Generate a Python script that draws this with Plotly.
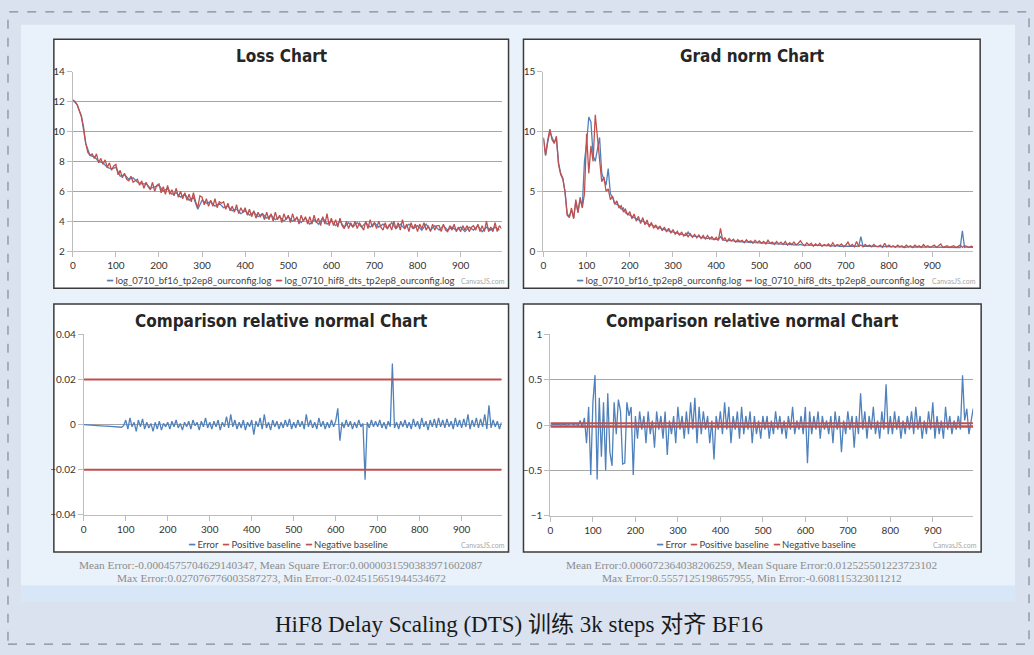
import plotly.graph_objects as go

W, H = 1034, 655

# ---- data ----
steps5 = list(range(0, 1000, 5))
steps10 = list(range(0, 1000, 10))

loss_hif8 = [
    12.1, 12.0, 11.8, 11.4, 11.0, 10.3, 9.2, 8.6, 8.4, 8.5,
    8.2, 8.5, 7.9, 8.2, 7.8, 8.1, 7.6, 7.9, 7.4, 7.7,
    7.8, 7.1, 7.4, 6.9, 7.2, 6.8, 6.7, 7.0, 6.6, 6.7,
    6.8, 6.4, 6.7, 6.2, 6.6, 6.3, 6.1, 6.6, 6.0, 6.4,
    6.5, 5.9, 6.3, 5.8, 6.4, 5.8, 6.1, 5.7, 6.2, 5.6,
    6.0, 5.5, 5.9, 5.4, 5.8, 5.3, 5.9, 5.3, 4.9, 5.7,
    5.6, 5.1, 5.5, 5.0, 5.4, 5.0, 5.5, 4.9, 5.3, 5.2,
    5.3, 4.8, 5.2, 4.7, 5.0, 4.6, 5.1, 4.5, 4.9, 4.6,
    4.9, 4.4, 4.8, 4.3, 4.7, 4.2, 4.6, 4.3, 4.5, 4.1,
    4.6, 4.1, 4.5, 4.0, 4.6, 4.1, 4.4, 3.9, 4.5, 4.1,
    4.4, 3.9, 4.5, 4.0, 4.3, 3.8, 4.4, 4.0, 4.3, 3.8,
    4.3, 3.8, 4.4, 3.9, 4.2, 3.7, 4.3, 3.8, 4.5, 3.7,
    4.2, 3.7, 4.1, 3.6, 4.2, 3.7, 3.5, 4.0, 3.5, 3.9,
    3.6, 4.0, 3.5, 3.9, 3.6, 3.4, 4.0, 3.5, 4.1, 3.6,
    3.9, 3.5, 4.0, 3.6, 3.4, 3.9, 3.5, 3.8, 3.4, 4.0,
    3.5, 3.9, 3.4, 4.1, 3.5, 3.8, 3.3, 3.9, 3.5, 3.8,
    3.3, 3.8, 3.5, 3.9, 3.4, 3.7, 3.3, 3.8, 3.4, 3.7,
    3.7, 3.3, 3.8, 3.4, 3.3, 3.7, 3.4, 3.8, 3.3, 3.6,
    3.3, 3.7, 3.4, 3.7, 3.3, 3.6, 3.7, 3.4, 3.8, 3.3,
    3.7, 3.3, 4.0, 3.3, 3.6, 3.3, 3.9, 3.3, 3.7, 3.5,
]

loss_bf16 = [
    12.1, 11.8, 11.0, 9.2, 8.4, 8.3, 8.0, 7.9, 7.6, 7.5,
    7.6, 7.0, 7.1, 6.8, 6.9, 6.6, 6.5, 6.5, 6.2, 6.3,
    6.4, 6.0, 6.2, 5.8, 5.9, 5.6, 5.8, 5.4, 5.6, 4.8,
    5.4, 5.2, 5.3, 5.0, 5.2, 4.9, 5.0, 4.7, 4.8, 4.5,
    4.7, 4.4, 4.6, 4.3, 4.5, 4.2, 4.4, 4.1, 4.3, 4.0,
    4.3, 4.0, 4.2, 3.9, 4.2, 3.8, 4.1, 3.8, 4.2, 3.8,
    4.0, 3.7, 4.0, 3.6, 3.9, 3.6, 3.9, 3.6, 3.9, 3.6,
    3.9, 3.6, 3.8, 3.5, 3.9, 3.5, 3.8, 3.5, 3.8, 3.5,
    3.7, 3.4, 3.8, 3.4, 3.7, 3.4, 3.7, 3.4, 3.6, 3.4,
    3.6, 3.3, 3.6, 3.4, 3.7, 3.3, 3.6, 3.4, 3.6, 3.4,
]

grad_hif8 = [
    9.5, 8.0, 9.3, 10.2, 9.3, 9.0, 9.6, 7.2, 6.4, 6.0,
    5.0, 3.0, 2.8, 3.6, 2.7, 4.3, 3.2, 4.5, 3.6, 4.8,
    9.8, 6.5, 8.8, 7.5, 11.4, 9.5, 7.5, 5.8, 6.2, 5.0,
    5.2, 4.3, 4.6, 3.9, 4.2, 3.6, 3.8, 3.3, 3.5, 3.0,
    3.3, 2.7, 3.1, 2.5, 2.9, 2.3, 2.8, 2.2, 2.6, 2.0,
    2.4, 1.9, 2.2, 1.8, 2.1, 1.7, 2.0, 1.6, 1.9, 1.5,
    1.8, 1.4, 1.65, 1.3, 1.6, 1.25, 1.5, 1.2, 1.45, 1.15,
    1.4, 1.1, 1.35, 1.05, 1.3, 1.0, 1.3, 1.0, 1.2, 0.95,
    1.15, 0.9, 1.9, 0.9, 1.1, 0.8, 1.05, 0.85, 1.0, 0.75,
    0.95, 0.8, 0.9, 0.7, 0.95, 0.75, 0.85, 0.65, 0.9, 0.7,
    0.85, 0.65, 0.8, 0.6, 0.9, 0.65, 0.75, 0.55, 0.8, 0.6,
    0.75, 0.55, 0.8, 0.5, 0.7, 0.55, 0.75, 0.5, 0.65, 0.85,
    0.6, 0.45, 0.7, 0.5, 0.65, 0.4, 0.6, 0.45, 0.65, 0.4,
    0.55, 0.45, 0.6, 0.4, 0.7, 0.4, 0.55, 0.45, 0.6, 0.35,
    0.5, 0.75, 0.4, 0.55, 0.35, 0.8, 0.4, 0.5, 0.35, 0.55,
    0.4, 0.5, 0.35, 0.55, 0.4, 0.35, 0.5, 0.3, 0.65, 0.35,
    0.5, 0.35, 0.45, 0.3, 0.5, 0.35, 0.45, 0.3, 0.5, 0.35,
    0.45, 0.3, 0.5, 0.35, 0.45, 0.3, 0.55, 0.35, 0.45, 0.3,
    0.4, 0.5, 0.3, 0.45, 0.6, 0.3, 0.4, 0.45, 0.3, 0.4,
    0.45, 0.3, 0.4, 0.5, 0.3, 0.45, 0.4, 0.3, 0.4, 0.35,
]

grad_bf16 = [
    9.4, 8.0, 9.1, 10.0, 9.5, 9.1, 9.4, 7.4, 6.5, 6.1,
    4.9, 3.1, 2.9, 3.4, 2.8, 4.1, 3.3, 4.3, 3.7, 7.5,
    9.0, 11.2, 10.8, 8.0, 7.5, 8.5, 9.5, 6.5, 6.0, 5.5,
    6.9, 4.8, 4.5, 4.0, 3.9, 3.8, 3.5, 3.6, 3.2, 3.1,
    3.0, 2.9, 2.8, 2.7, 2.6, 2.5, 2.5, 2.4, 2.3, 2.2,
    2.2, 2.1, 2.0, 2.0, 1.9, 1.85, 1.8, 1.75, 1.7, 1.6,
    1.6, 1.55, 1.5, 1.45, 1.4, 1.35, 1.3, 1.6, 1.3, 1.25,
    1.25, 1.2, 1.2, 1.15, 1.1, 1.1, 1.05, 1.1, 1.0, 1.0,
    1.0, 0.95, 1.2, 0.95, 0.9, 0.9, 0.85, 0.85, 0.85, 0.8,
    0.8, 0.8, 0.75, 0.8, 0.75, 0.75, 0.7, 0.75, 0.7, 0.7,
    0.7, 0.7, 0.65, 0.7, 0.65, 0.65, 0.6, 0.65, 0.6, 0.6,
    0.6, 0.6, 0.55, 0.6, 0.55, 0.55, 0.5, 0.55, 0.5, 0.55,
    0.5, 0.5, 0.5, 0.5, 0.45, 0.5, 0.45, 0.5, 0.45, 0.45,
    0.45, 0.45, 0.45, 0.4, 0.45, 0.4, 0.45, 0.4, 0.4, 0.4,
    0.4, 0.4, 0.4, 0.4, 0.45, 0.4, 0.4, 1.2, 0.4, 0.4,
    0.4, 0.4, 0.35, 0.4, 0.35, 0.4, 0.35, 0.35, 0.4, 0.35,
    0.35, 0.35, 0.4, 0.35, 0.35, 0.35, 0.35, 0.3, 0.35, 0.35,
    0.35, 0.3, 0.35, 0.35, 0.3, 0.35, 0.3, 0.35, 0.3, 0.35,
    0.3, 0.35, 0.3, 0.3, 0.35, 0.3, 0.3, 0.35, 0.3, 0.3,
    0.3, 0.3, 0.35, 0.3, 1.7, 0.3, 0.35, 0.3, 0.3, 0.3,
]

loss_err = [
    0.0, -0.0001, -0.0002, -0.0003, -0.0004, -0.0004, -0.0005, -0.0005, -0.0006, -0.0006,
    -0.0007, -0.0007, -0.0008, -0.0008, -0.0008, -0.0009, -0.0009, -0.001, -0.0012, -0.0005,
    0.002, -0.002, 0.003, -0.001, 0.001, -0.003, 0.002, -0.001, 0.0025, -0.002,
    0.001, -0.0015, 0.0005, -0.003, 0.001, -0.002, 0.0015, -0.0025, 0.0005, -0.001,
    0.001, -0.002, 0.0015, -0.001, 0.002, -0.0015, 0.0005, -0.0025, 0.001, -0.001,
    0.0015, -0.002, 0.002, -0.0005, 0.001, -0.0025, 0.0015, -0.001, 0.003, -0.0015,
    0.001, -0.002, 0.0015, -0.001, 0.002, -0.0025, 0.001, -0.001, 0.0035, -0.0015,
    0.0045, -0.001, 0.002, -0.002, 0.001, -0.0015, 0.002, -0.0025, 0.001, -0.001,
    0.002, -0.0045, 0.0015, -0.001, 0.003, -0.002, 0.0045, -0.0015, 0.001, -0.0025,
    0.002, -0.001, 0.0015, -0.002, 0.001, -0.0015, 0.002, -0.001, 0.0025, -0.002,
    0.001, -0.0015, 0.002, -0.001, 0.0015, -0.002, 0.0045, -0.001, 0.002, -0.0015,
    0.001, -0.002, 0.003, -0.001, 0.0015, -0.002, 0.001, -0.0015, 0.002, -0.001,
    0.0015, 0.0072, -0.0072, 0.001, -0.0015, 0.002, -0.001, 0.0015, -0.002, 0.001,
    -0.0015, 0.002, -0.001, 0.0005, -0.0245, 0.001, -0.0015, 0.002, -0.001, 0.0015,
    -0.001, 0.002, -0.0015, 0.001, -0.002, 0.0015, -0.001, 0.0271, -0.0015, 0.001,
    -0.002, 0.0015, -0.001, 0.002, -0.0015, 0.001, -0.002, 0.0025, -0.001, 0.0015,
    -0.002, 0.003, -0.001, 0.0015, -0.0025, 0.002, -0.001, 0.0025, -0.0015, 0.003,
    -0.001, 0.002, -0.0015, 0.0025, -0.001, 0.0015, -0.002, 0.003, -0.001, 0.002,
    -0.0015, 0.0025, -0.001, 0.0045, -0.002, 0.002, -0.001, 0.003, -0.0015, 0.0025,
    -0.001, 0.0045, -0.002, 0.0085, -0.0015, 0.002, -0.001, 0.0015, -0.002, 0.001,
]

grad_err = [
    0.0, 0.005, 0.01, 0.005, 0.01, 0.0, 0.01, 0.005, 0.0, 0.01,
    0.015, 0.0, 0.02, -0.01, 0.05, -0.03, 0.08, -0.2, 0.2, -0.55,
    0.25, 0.55, -0.6, 0.3, -0.35, 0.25, -0.5, 0.35, -0.3, -0.45,
    0.25, -0.1, 0.28, 0.15, -0.43, -0.42, 0.25, 0.1, 0.2, -0.55,
    0.1, -0.15, 0.15, -0.05, 0.1, -0.2, 0.15, -0.1, 0.05, -0.25,
    0.15, -0.05, 0.1, -0.15, 0.15, -0.33, 0.05, -0.1, 0.1, -0.2,
    0.2, -0.05, 0.1, -0.15, 0.15, -0.1, 0.25, -0.05, 0.3, -0.2,
    0.2, -0.1, 0.15, -0.05, 0.1, -0.2, 0.05, -0.38, 0.1, -0.05,
    0.15, -0.1, 0.25, -0.05, 0.2, -0.2, 0.1, -0.05, 0.15, -0.15,
    0.2, -0.1, 0.1, -0.05, 0.15, -0.2, 0.1, -0.1, 0.05, -0.15,
    0.1, -0.05, 0.1, -0.15, 0.05, -0.1, 0.15, -0.05, 0.1, -0.1,
    0.05, -0.15, 0.1, -0.05, 0.2, -0.1, 0.05, -0.05, 0.1, -0.1,
    0.2, -0.42, 0.15, -0.1, 0.1, -0.05, 0.15, -0.15, 0.1, -0.05,
    0.05, -0.1, 0.1, -0.2, 0.15, -0.05, 0.1, -0.3, 0.05, -0.1,
    0.15, -0.05, 0.1, -0.25, 0.1, -0.1, 0.35, -0.05, 0.15, -0.15,
    0.1, -0.05, 0.2, -0.1, 0.05, -0.15, 0.15, -0.05, 0.45, -0.1,
    0.1, -0.1, 0.15, -0.05, 0.1, -0.15, 0.05, -0.1, 0.1, -0.05,
    0.15, -0.1, 0.2, -0.05, 0.1, -0.15, 0.05, -0.1, 0.15, -0.05,
    0.25, -0.15, 0.1, -0.1, 0.05, -0.15, 0.2, -0.05, 0.1, -0.1,
    0.05, -0.05, 0.1, -0.05, 0.55, 0.05, 0.18, -0.1, 0.05, 0.18,
]

baseline_x = [0, 995]
pos_baseline = [0.02, 0.02]
neg_baseline = [-0.02, -0.02]

name_bf16 = "log_0710_bf16_tp2ep8_ourconfig.log"
name_hif8 = "log_0710_hif8_dts_tp2ep8_ourconfig.log"
stats_loss = ["Mean Error:-0.0004575704629140347, Mean Square Error:0.0000031590383971602087",
              "Max Error:0.027076776003587273, Min Error:-0.024515651944534672"]
stats_grad = ["Mean Error:0.006072364038206259, Mean Square Error:0.012525501223723102",
              "Max Error:0.5557125198657955, Min Error:-0.608115323011212"]

BLUE = "#4F81BC"
RED = "#C0504E"


def fx(p):
    return p / W


def fy(p):
    return 1 - p / H


# panels: border box and plot area, in pixels
panels = [
    dict(box=(51, 33, 507, 287), area=(70, 66, 500, 249)),
    dict(box=(522, 33, 980, 287), area=(542, 66, 973, 249)),
    dict(box=(51, 303, 507, 556), area=(81, 334, 500, 518)),
    dict(box=(522, 303, 981, 556), area=(549, 334, 973, 519)),
]

fig = go.Figure()

line_w = 1.3
fig.add_trace(go.Scatter(x=steps10, y=loss_bf16, mode="lines", line=dict(color=BLUE, width=line_w), xaxis="x", yaxis="y"))
fig.add_trace(go.Scatter(x=steps5, y=loss_hif8, mode="lines", line=dict(color=RED, width=line_w), xaxis="x", yaxis="y"))
fig.add_trace(go.Scatter(x=steps5, y=grad_bf16, mode="lines", line=dict(color=BLUE, width=line_w), xaxis="x2", yaxis="y2"))
fig.add_trace(go.Scatter(x=steps5, y=grad_hif8, mode="lines", line=dict(color=RED, width=line_w), xaxis="x2", yaxis="y2"))
fig.add_trace(go.Scatter(x=steps5, y=loss_err, mode="lines", line=dict(color=BLUE, width=line_w), xaxis="x3", yaxis="y3"))
fig.add_trace(go.Scatter(x=baseline_x, y=pos_baseline, mode="lines", line=dict(color=RED, width=2), xaxis="x3", yaxis="y3"))
fig.add_trace(go.Scatter(x=baseline_x, y=neg_baseline, mode="lines", line=dict(color=RED, width=2), xaxis="x3", yaxis="y3"))
fig.add_trace(go.Scatter(x=steps5, y=grad_err, mode="lines", line=dict(color=BLUE, width=line_w), xaxis="x4", yaxis="y4"))
fig.add_trace(go.Scatter(x=baseline_x, y=pos_baseline, mode="lines", line=dict(color=RED, width=2), xaxis="x4", yaxis="y4"))
fig.add_trace(go.Scatter(x=baseline_x, y=neg_baseline, mode="lines", line=dict(color=RED, width=2), xaxis="x4", yaxis="y4"))

tick_font = dict(family="Lato, Open Sans, sans-serif", size=10, color="#333")
y_ranges = [([2, 14], 2), ([0, 15], 5), ([-0.04, 0.04], 0.02), ([-1, 1], 0.5)]

layout = dict(
    width=W, height=H, showlegend=False,
    margin=dict(l=0, r=0, t=0, b=0),
    paper_bgcolor="#d9e2ee", plot_bgcolor="rgba(0,0,0,0)",
)
for i, p in enumerate(panels):
    sfx = "" if i == 0 else str(i + 1)
    x0, y0, x1, y1 = p["area"]
    yr, dt = y_ranges[i]
    layout["xaxis" + sfx] = dict(
        domain=[fx(x0), fx(x1)], anchor="y" + sfx, range=[0, 995], dtick=100, tick0=0,
        showgrid=False, zeroline=False, showline=True, linecolor="#bdbdbd", linewidth=1,
        ticks="outside", ticklen=5, tickcolor="#bdbdbd", tickfont=tick_font,
    )
    layout["yaxis" + sfx] = dict(
        domain=[fy(y1), fy(y0)], anchor="x" + sfx, range=yr, dtick=dt,
        showgrid=True, gridcolor="#a6a6a6", gridwidth=1, zeroline=False,
        showline=True, linecolor="#bdbdbd", linewidth=1,
        ticks="outside", ticklen=5, tickcolor="#bdbdbd", tickfont=tick_font,
    )
fig.update_layout(**layout)

# slide background, inner picture and panel boxes
fig.add_shape(type="rect", xref="paper", yref="paper", x0=fx(18), x1=fx(1015), y0=fy(607), y1=fy(18),
              fillcolor="#e9f1fa", line=dict(width=0), layer="below")
fig.add_shape(type="rect", xref="paper", yref="paper", x0=fx(18), x1=fx(1015), y0=fy(607), y1=fy(590),
              fillcolor="#d8e7f7", line=dict(width=0), layer="below")
fig.add_shape(type="rect", xref="paper", yref="paper", x0=fx(5), x1=fx(1029), y0=fy(650), y1=fy(5),
              fillcolor="rgba(0,0,0,0)", line=dict(color="#7d8ca3", width=1.2, dash="dash"), layer="below")
for p in panels:
    x0, y0, x1, y1 = p["box"]
    fig.add_shape(type="rect", xref="paper", yref="paper", x0=fx(x0), x1=fx(x1), y0=fy(y1), y1=fy(y0),
                  fillcolor="white", line=dict(color="#3b3b3b", width=1.5), layer="below")

title_font = dict(family="DejaVu Sans Condensed, sans-serif", size=17, color="#262626", weight="bold")
titles = ["Loss Chart", "Grad norm Chart", "Comparison relative normal Chart", "Comparison relative normal Chart"]
legend_font = dict(family="Lato, Open Sans, sans-serif", size=9.5, color="#444")
sp = "&nbsp;" * 2
legend_texts = [
    f'<span style="color:{BLUE}">━</span> {name_bf16}{sp}<span style="color:{RED}">━</span> {name_hif8}',
    f'<span style="color:{BLUE}">━</span> {name_bf16}{sp}<span style="color:{RED}">━</span> {name_hif8}',
    f'<span style="color:{BLUE}">━</span> Error{sp}<span style="color:{RED}">━</span> Positive baseline{sp}<span style="color:{RED}">━</span> Negative baseline',
    f'<span style="color:{BLUE}">━</span> Error{sp}<span style="color:{RED}">━</span> Positive baseline{sp}<span style="color:{RED}">━</span> Negative baseline',
]
legend_cx = [278, 750, 286, 755]
for i, p in enumerate(panels):
    bx0, by0, bx1, by1 = p["box"]
    fig.add_annotation(xref="paper", yref="paper", x=fx((bx0 + bx1) / 2), y=fy(by0 + 17),
                       text=titles[i], showarrow=False, font=title_font, xanchor="center", yanchor="middle")
    fig.add_annotation(xref="paper", yref="paper", x=fx(legend_cx[i]), y=fy(by1 - 8),
                       text=legend_texts[i], showarrow=False, font=legend_font, xanchor="center", yanchor="middle")
    fig.add_annotation(xref="paper", yref="paper", x=fx(bx1 - 2), y=fy(by1 - 7),
                       text="CanvasJS.com", showarrow=False, xanchor="right", yanchor="middle",
                       font=dict(family="Lato, sans-serif", size=7, color="#a8a8a8"))

stats_font = dict(family="Liberation Serif, serif", size=11.3, color="#8c8c8c")
for cx, lines in [(279, stats_loss), (751, stats_grad)]:
    for k, line in enumerate(lines):
        fig.add_annotation(xref="paper", yref="paper", x=fx(cx), y=fy(569 + 14 * k), text=line,
                           showarrow=False, font=stats_font, xanchor="center", yanchor="middle")

fig.add_annotation(xref="paper", yref="paper", x=fx(517), y=fy(630),
                   text="HiF8 Delay Scaling (DTS) 训练 3k steps 对齐 BF16", showarrow=False,
                   font=dict(family="Liberation Serif, Noto Sans CJK SC, serif", size=23, color="#1a1a1a"),
                   xanchor="center", yanchor="middle")

fig.write_html("out.html", config={"displayModeBar": False},
               post_script="document.body.style.margin='0';")
